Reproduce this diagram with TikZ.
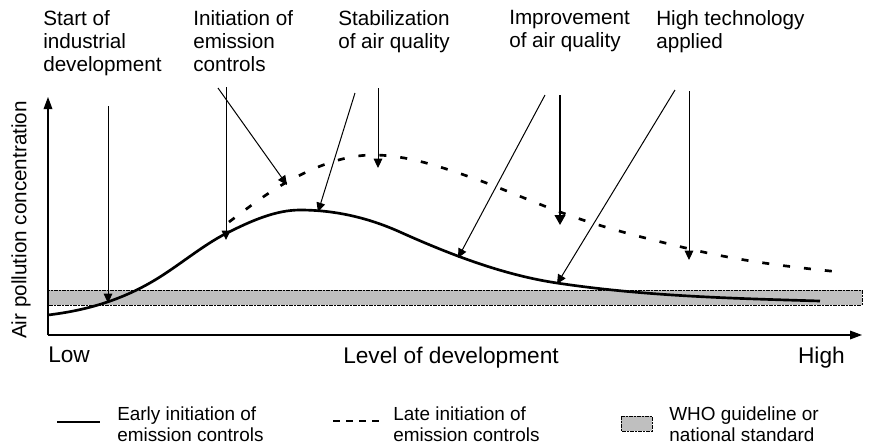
\documentclass[tikz,border=0pt]{standalone}
\usepackage{fontspec}
\setmainfont{Liberation Sans}
\usetikzlibrary{arrows.meta}

\begin{document}
\begin{tikzpicture}[x=0.75pt, y=-0.75pt,
  early/.style={line width=2pt},
  late/.style={line width=2pt, dash pattern=on 5.25pt off 10.5pt},
  band/.style={fill=gray!50, line width=0.4pt, dash pattern=on 3pt off 1pt on 1pt off 1pt},
  pointer/.style={line width=0.75pt, -{Triangle[length=7pt, width=6.5pt]}},
  bigpointer/.style={line width=1.5pt, -{Triangle[length=7.5pt, width=8pt]}},
  axis/.style={line width=0.9pt, -{Triangle[length=9pt, width=6.5pt]}},
  toplabel/.style={anchor=north west, inner sep=0pt, align=left, font=\fontsize{15.5}{17.25}\selectfont},
  axislabel/.style={inner sep=0pt, font=\fontsize{17}{20}\selectfont},
  keylabel/.style={anchor=north west, inner sep=0pt, align=left, font=\fontsize{14.2}{15.75}\selectfont}]

\useasboundingbox (0,0) rectangle (869,444);

\filldraw[band] (48,290) rectangle (862,305);

\coordinate (origin) at (48,335);
\coordinate (ytip) at (48,97);
\coordinate (xtip) at (862,335);
\draw[axis] (origin) -- (ytip);
\draw[axis] (origin) -- (xtip);

\draw[early] (48,315) .. controls (83.7,310.7) and (119.3,301.4) .. (155,280)
  .. controls (179,265.6) and (203,245) .. (227,233)
  .. controls (251.3,220.8) and (275.7,210) .. (300,210)
  .. controls (333.3,210) and (366.7,217) .. (400,232)
  .. controls (452.3,255.5) and (504.7,275.2) .. (557,283)
  .. controls (644.7,296.2) and (732.3,298.4) .. (820,301);
\draw[late] (229,222) .. controls (248.3,207.5) and (267.7,192.6) .. (287,182)
  .. controls (315.7,166.2) and (344.3,155) .. (373,155)
  .. controls (405.3,155) and (437.7,165.7) .. (470,177)
  .. controls (500,187.5) and (530,200.9) .. (560,212)
  .. controls (603.3,228) and (646.7,238.6) .. (690,249)
  .. controls (740,261) and (790,267) .. (840,272);

\node[toplabel] (start) at (43,10.5) {Start of\\industrial\\development};
\node[toplabel] (initiation) at (193,10.5) {Initiation of\\emission\\controls};
\node[toplabel] (stabilization) at (338,10.5) {Stabilization\\of air quality};
\node[toplabel] (improvement) at (509,10.5) {Improvement\\of air quality};
\node[toplabel] (hightech) at (656,10.5) {High technology\\applied};

\coordinate (startA) at (108,106);
\coordinate (startB) at (108,303);
\coordinate (initA) at (218,88);
\coordinate (initB) at (287,185);
\coordinate (initC) at (226,87);
\coordinate (initD) at (226,240);
\coordinate (stabA) at (355,93);
\coordinate (stabB) at (318,212);
\coordinate (stabC) at (378,88);
\coordinate (stabD) at (378,168);
\coordinate (impA) at (545,95);
\coordinate (impB) at (458,258);
\coordinate (impC) at (560,95);
\coordinate (impD) at (560,225);
\coordinate (techA) at (675,90);
\coordinate (techB) at (557,284);
\coordinate (techC) at (689,91);
\coordinate (techD) at (689,260);

\draw[pointer] (startA) -- (startB);
\draw[pointer] (initA) -- (initB);
\draw[pointer] (initC) -- (initD);
\draw[pointer] (stabA) -- (stabB);
\draw[pointer] (stabC) -- (stabD);
\draw[pointer] (impA) -- (impB);
\draw[bigpointer] (impC) -- (impD);
\draw[pointer] (techA) -- (techB);
\draw[pointer] (techC) -- (techD);

\node[axislabel, anchor=north west] (low) at (48,347) {Low};
\node[axislabel, anchor=north] (level) at (451,347) {Level of development};
\node[axislabel, anchor=north east] (high) at (845,347) {High};
\node[inner sep=0pt, rotate=90, font=\fontsize{15.5}{18}\selectfont] (ylabel) at (21,220) {Air pollution concentration};

\coordinate (keyEarlyA) at (57,422);
\coordinate (keyEarlyB) at (100,422);
\draw[early] (keyEarlyA) -- (keyEarlyB);
\node[keylabel] (keyEarly) at (117,406.5) {Early initiation of\\emission controls};

\coordinate (keyLateA) at (333,421);
\coordinate (keyLateB) at (383,421);
\draw[line width=2pt, dash pattern=on 5.25pt off 4.5pt] (keyLateA) -- (keyLateB);
\node[keylabel] (keyLate) at (393,406.5) {Late initiation of\\emission controls};

\filldraw[band] (621,416) rectangle (652,431);
\node[keylabel] (keyWho) at (669,406.5) {WHO guideline or\\national standard};

\end{tikzpicture}
\end{document}
